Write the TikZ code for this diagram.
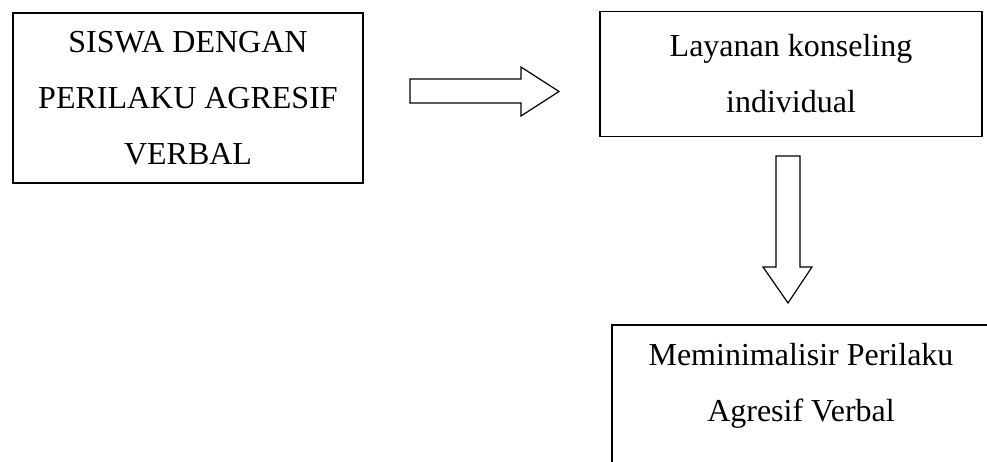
\documentclass[tikz,border=0pt]{standalone}
\usepackage{fontspec}
\setmainfont{Liberation Serif}
\usepackage{tikz}
\usetikzlibrary{positioning}

\begin{document}
\begin{tikzpicture}[x=1pt,y=1pt]
	\useasboundingbox (0,0) rectangle (987,462);
	\clip (0,0) rectangle (987,462);
	\begin{scope}[every node/.style={rectangle, draw, line width=1.7pt, align=center, inner sep=0pt,
	              font=\fontsize{32pt}{56pt}\selectfont}]
		\node[minimum width=350pt, minimum height=170pt] (siswa) at (188,364) {SISWA DENGAN\\PERILAKU AGRESIF\\VERBAL};
		\node[minimum width=382pt, minimum height=125pt] (layanan) at (791,388) {Layanan konseling\\individual};
		\node[minimum width=378pt, minimum height=170pt] (hasil) at (801,52) {Meminimalisir Perilaku\\Agresif Verbal\\\mbox{}};
	\end{scope}
	
	\begin{scope}[line width=1.2pt, line join=miter]
		% block arrow to the right
		\draw (410,383) -- (521,383) -- (521,395) -- (559,370.5) -- (521,346) -- (521,359) -- (410,359) -- cycle;
		% block arrow downwards
		\draw (776,306) -- (776,195) -- (763,195) -- (788,159) -- (812,195) -- (800,195) -- (800,306) -- cycle;
	\end{scope}
\end{tikzpicture}
\end{document}
